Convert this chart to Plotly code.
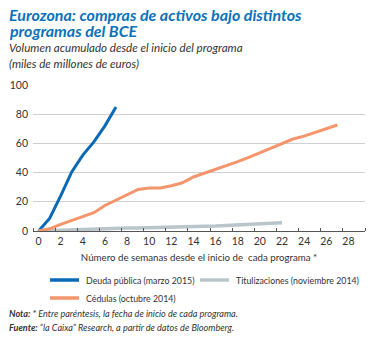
import plotly.graph_objects as go

weeks_deuda = list(range(0, 8))
deuda = [0, 8.6, 24, 40.5, 52, 61, 72, 85]

weeks_titul = list(range(0, 23))
titul = [0, 0.3, 0.6, 0.9, 1.2, 1.4, 1.6, 1.8, 2.0, 2.1, 2.2, 2.4, 2.6, 2.8,
         3.0, 3.2, 3.4, 3.7, 4.0, 4.4, 4.8, 5.2, 5.7]

weeks_ced = list(range(0, 28))
cedulas = [0, 1.5, 4.5, 7, 10, 12.5, 17.5, 21, 24.5, 28.5, 29.5, 29.5, 31, 33,
           37, 39.5, 42, 44.5, 47.5, 50.5, 53.5, 56.5, 60, 63, 65, 67.5, 70, 72.6]

x_ticks = list(range(0, 29, 2))
y_ticks = [0, 20, 40, 60, 80, 100]

names = ["Deuda pública (marzo 2015)", "Titulizaciones (noviembre 2014)", "Cédulas (octubre 2014)"]
colors = ["#0a6ab6", "#b9c5ca", "#f4956b"]

title_lines = ["<b><i>Eurozona: compras de activos bajo distintos</i></b>",
               "<b><i>programas del BCE</i></b>"]
subtitle_lines = ["<i>Volumen acumulado desde el inicio del programa</i>",
                  "<i>(miles de millones de euros)</i>"]
note_lines = ["<b><i>Nota:</i></b><i> * Entre paréntesis, la fecha de inicio de cada programa.</i>",
              "<b><i>Fuente:</i></b><i> “la Caixa” Research, a partir de datos de Bloomberg.</i>"]

FONT = "Lato"
TXT = "#333333"

# plot area in pixels
L, R, T, B = 33, 15, 85, 107
PW, PH = 380 - L - R, 338 - T - B


def px(xp):
    return (xp - L) / PW


def py(yp):
    return (338 - B - yp) / PH


fig = go.Figure()
fig.add_trace(go.Scatter(x=weeks_deuda, y=deuda, mode="lines", name=names[0],
                         line=dict(color=colors[0], width=3)))
fig.add_trace(go.Scatter(x=weeks_titul, y=titul, mode="lines", name=names[1],
                         line=dict(color=colors[1], width=3.5)))
fig.add_trace(go.Scatter(x=weeks_ced, y=cedulas, mode="lines", name=names[2],
                         line=dict(color=colors[2], width=3)))

fig.update_layout(
    width=380, height=338,
    margin=dict(l=L, r=R, t=T, b=B, autoexpand=False),
    paper_bgcolor="white", plot_bgcolor="white",
    font=dict(family=FONT, size=11, color=TXT),
    showlegend=False,
    xaxis=dict(range=[-0.5, 29.5], tickmode="array", tickvals=x_ticks,
               ticks="", showgrid=False, zeroline=False,
               showline=True, linecolor="#555555", linewidth=1,
               tickfont=dict(size=10.5, color=TXT),
               minor=dict(ticks="inside", tick0=-0.5, dtick=2, ticklen=3,
                          tickcolor="#555555", showgrid=False),
               title=dict(text="Número de semanas desde el inicio de  cada programa *",
                          font=dict(size=9.7, color=TXT), standoff=8)),
    yaxis=dict(range=[0, 100], tickmode="array", tickvals=y_ticks,
               showgrid=True, gridcolor="#d0d0d0", gridwidth=1,
               zeroline=False, showline=False, ticks="", ticklabelstandoff=4,
               tickfont=dict(size=10.5, color=TXT)),
)

# manual legend
legend_pos = [(50, 280), (200, 280), (50, 298)]
for (lx, ly), name, col in zip(legend_pos, names, colors):
    fig.add_shape(type="line", xref="paper", yref="paper",
                  x0=px(lx), x1=px(lx + 29), y0=py(ly), y1=py(ly),
                  line=dict(color=col, width=3.5))
    fig.add_annotation(xref="paper", yref="paper", x=px(lx + 34), y=py(ly),
                       xanchor="left", yanchor="middle", showarrow=False,
                       text=name, font=dict(family=FONT, size=8.8, color=TXT))

for i, t in enumerate(title_lines):
    fig.add_annotation(xref="paper", yref="paper", x=px(7), y=py(14 + 16 * i),
                       xanchor="left", yanchor="middle", showarrow=False,
                       text=t, font=dict(family=FONT, size=16, color="#0b72b9"))
for i, t in enumerate(subtitle_lines):
    fig.add_annotation(xref="paper", yref="paper", x=px(7), y=py(47 + 16 * i),
                       xanchor="left", yanchor="middle", showarrow=False,
                       text=t, font=dict(family=FONT, size=11.6, color=TXT))
for i, t in enumerate(note_lines):
    fig.add_annotation(xref="paper", yref="paper", x=px(7), y=py(313 + 14 * i),
                       xanchor="left", yanchor="middle", showarrow=False,
                       text=t, font=dict(family=FONT, size=9.1, color=TXT))

fig.write_html("out.html")
